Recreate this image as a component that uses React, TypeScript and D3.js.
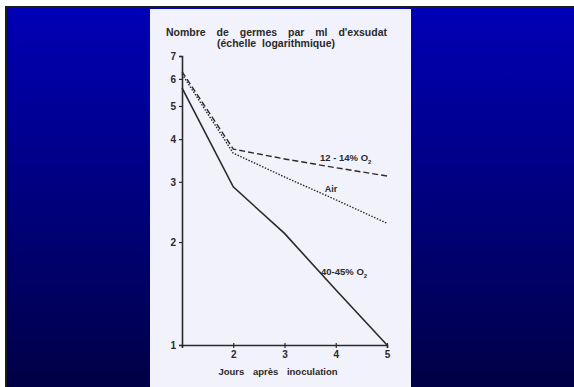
import React, { useEffect, useRef } from "react";
import { axisBottom, axisLeft, line, scaleLinear, scaleLog, select } from "d3";

// jours après inoculation
const days = [1, 2, 3, 4, 5];
// nombre de germes (échelle logarithmique)
const oxy40 = [5.65, 2.9, 2.12, 1.45, 1.0];
const oxy12 = [6.3, 3.74, 3.5, 3.3, 3.12];
const air = [6.2, 3.64, 3.1, 2.66, 2.27];
const yTicks = [1, 2, 3, 4, 5, 6, 7];
const xTicks = [2, 3, 4, 5];

const W = 574;
const H = 387;

export default function App() {
  const gRef = useRef<SVGGElement>(null);

  useEffect(() => {
    const x = scaleLinear().domain([1, 5]).range([182, 387]);
    const y = scaleLog().domain([1, 7]).range([345, 56]);
    const ink = "#2a2a2a";
    const font = "Liberation Sans, Arial, sans-serif";

    const g = select(gRef.current);
    g.selectAll("*").remove();

    // y axis
    const ya = g
      .append("g")
      .attr("transform", `translate(${x(1)},0)`)
      .call(
        axisLeft(y)
          .tickValues(yTicks)
          .tickFormat((d) => String(d))
          .tickSize(3)
          .tickPadding(3)
      );
    // x axis
    const xa = g
      .append("g")
      .attr("transform", `translate(0,${y(1)})`)
      .call(
        axisBottom(x)
          .tickValues(xTicks)
          .tickFormat((d) => String(d))
          .tickSize(3)
          .tickPadding(3)
      );
    [ya, xa].forEach((a) => {
      a.select(".domain").attr("stroke", ink).attr("stroke-width", 1.6);
      a.selectAll(".tick line").attr("stroke", ink).attr("stroke-width", 1.2);
      a.selectAll(".tick text")
        .attr("fill", ink)
        .attr("font-family", font)
        .attr("font-weight", "bold")
        .attr("font-size", 10);
    });
    xa.selectAll(".tick line").attr("y1", -2);

    const mk = line<number>()
      .x((_, i) => x(days[i]))
      .y((d) => y(d));

    const series: [number[], string, number][] = [
      [oxy40, "none", 1.6],
      [oxy12, "6 3", 1.4],
      [air, "1.5 1.5", 1.4],
    ];
    series.forEach(([vals, dash, sw]) => {
      g.append("path")
        .attr("d", mk(vals))
        .attr("fill", "none")
        .attr("stroke", ink)
        .attr("stroke-width", sw)
        .attr("stroke-dasharray", dash);
    });

    const txt = (s: string, cx: number, cy: number, ws: number, size = 10) =>
      g
        .append("text")
        .attr("x", cx)
        .attr("y", cy)
        .attr("dy", "0.35em")
        .attr("text-anchor", "middle")
        .attr("font-family", font)
        .attr("font-weight", "bold")
        .attr("font-size", size)
        .attr("fill", ink)
        .attr("word-spacing", ws)
        .text(s);

    txt("Nombre de germes par ml d'exsudat", 276.5, 32, 8, 10.5);
    txt("(échelle logarithmique)", 276, 43, 3, 10.5);
    txt("Jours après inoculation", 278, 372, 6, 9.5);
    txt("Air", 331, 189, 0, 9);

    const o2 = (s: string, cx: number, cy: number) => {
      const t = g
        .append("text")
        .attr("x", cx)
        .attr("y", cy)
        .attr("dy", "0.35em")
        .attr("font-family", font)
        .attr("font-weight", "bold")
        .attr("font-size", 9.5)
        .attr("fill", ink);
      t.append("tspan").text(s + " O");
      t.append("tspan").attr("dy", 3).attr("font-size", 6).text("2");
    };
    o2("12 - 14%", 320, 158);
    o2("40-45%", 321, 272);
  }, []);

  return (
    <div style={{ position: "fixed", left: 0, top: 0, width: W, height: H }}>
      <svg width={W} height={H} style={{ display: "block" }}>
        <defs>
          <linearGradient id="bg" x1="0" y1="0" x2="0" y2="1">
            <stop offset="0" stopColor="#0000b6" />
            <stop offset="1" stopColor="#000046" />
          </linearGradient>
        </defs>
        <rect x={0} y={0} width={W} height={H} fill="#ffffff" />
        <rect x={5} y={6} width={W - 5} height={H - 6} fill="#1a1a1a" />
        <rect x={7} y={8} width={W - 7} height={H - 8} fill="url(#bg)" />
        <rect x={150} y={9} width={261} height={H - 9} fill="#f2f2fc" />
        <g ref={gRef} />
      </svg>
    </div>
  );
}
